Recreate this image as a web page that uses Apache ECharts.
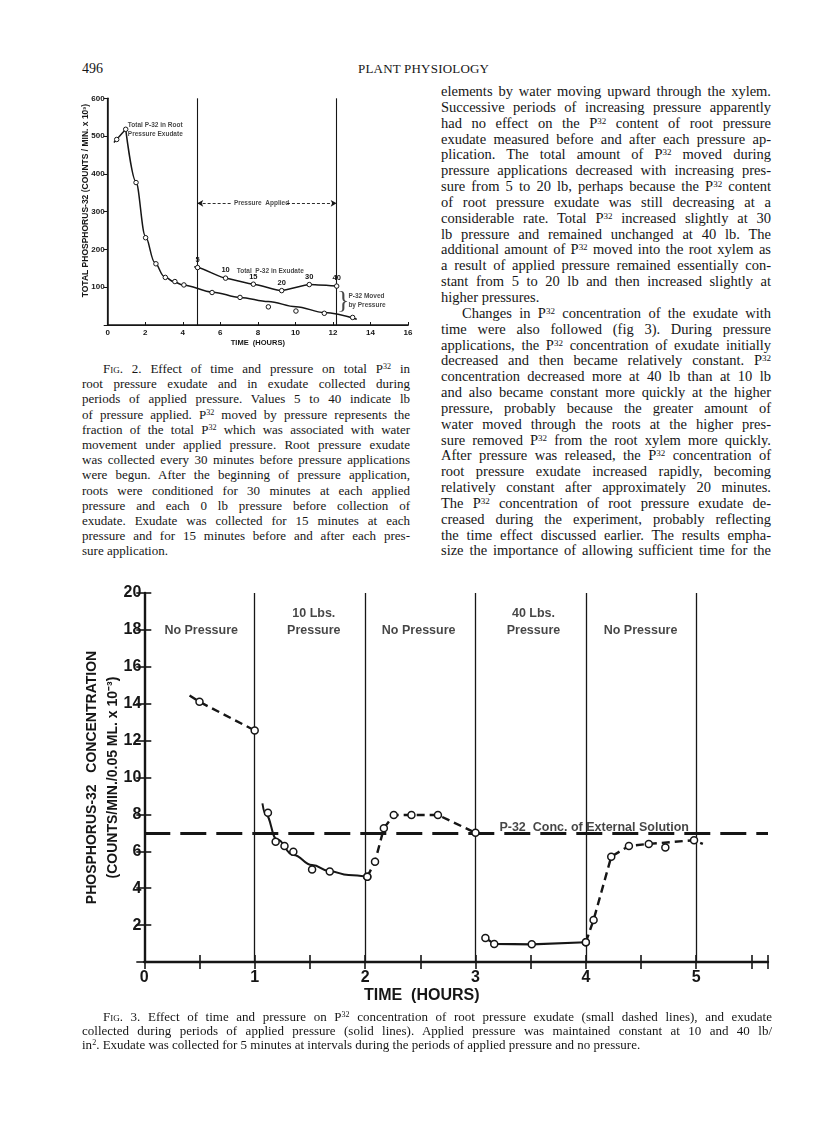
<!DOCTYPE html>
<html>
<head>
<meta charset="utf-8">
<script src="https://cdn.jsdelivr.net/npm/echarts@6/dist/echarts.min.js"></script>
<style>
  body { margin: 0; background: #fff; }
  #page { position: relative; width: 816px; height: 1121px; overflow: hidden;
          font-family: "Liberation Serif", "DejaVu Serif", serif; color: #161616; }
  .hd { position: absolute; font-size: 14px; line-height: 16px; }
  .col { position: absolute; }
  .col div { text-align: justify; text-align-last: justify; overflow: visible; }
  .col div.end { text-align-last: left; }
  .col div.ind { padding-left: 21px; }
  sup { font-size: 0.62em; line-height: 0; vertical-align: 0.48em; }
  .sc { font-variant: small-caps; }
  #fig2, #fig3 { position: absolute; left: 0; }
</style>
</head>
<body>
<div id="page">
  <div class="hd" style="left:82px; top:61px;">496</div>
  <div class="hd" style="left:358px; top:61px; font-size:13px; letter-spacing:0.2px;">PLANT PHYSIOLOGY</div>

  <div id="fig2" style="top:80px; width:430px; height:280px;"></div>

  <div class="col" style="left:82px; top:361px; width:328px; font-size:13px; line-height:15.2px;">
    <div class="ind">F<span class="sc">ig</span>. 2. Effect of time and pressure on total P<sup>32</sup> in</div>
    <div>root pressure exudate and in exudate collected during</div>
    <div>periods of applied pressure. Values 5 to 40 indicate lb</div>
    <div>of pressure applied. P<sup>32</sup> moved by pressure represents the</div>
    <div>fraction of the total P<sup>32</sup> which was associated with water</div>
    <div>movement under applied pressure. Root pressure exudate</div>
    <div>was collected every 30 minutes before pressure applications</div>
    <div>were begun. After the beginning of pressure application,</div>
    <div>roots were conditioned for 30 minutes at each applied</div>
    <div>pressure and each 0 lb pressure before collection of</div>
    <div>exudate. Exudate was collected for 15 minutes at each</div>
    <div>pressure and for 15 minutes before and after each pres-</div>
    <div class="end">sure application.</div>
  </div>

  <div class="col" style="left:441px; top:84px; width:330px; font-size:14.5px; line-height:15.85px;">
    <div>elements by water moving upward through the xylem.</div>
    <div>Successive periods of increasing pressure apparently</div>
    <div>had no effect on the P<sup>32</sup> content of root pressure</div>
    <div>exudate measured before and after each pressure ap-</div>
    <div>plication. The total amount of P<sup>32</sup> moved during</div>
    <div>pressure applications decreased with increasing pres-</div>
    <div>sure from 5 to 20 lb, perhaps because the P<sup>32</sup> content</div>
    <div>of root pressure exudate was still decreasing at a</div>
    <div>considerable rate. Total P<sup>32</sup> increased slightly at 30</div>
    <div>lb pressure and remained unchanged at 40 lb. The</div>
    <div>additional amount of P<sup>32</sup> moved into the root xylem as</div>
    <div>a result of applied pressure remained essentially con-</div>
    <div>stant from 5 to 20 lb and then increased slightly at</div>
    <div class="end">higher pressures.</div>
    <div class="ind">Changes in P<sup>32</sup> concentration of the exudate with</div>
    <div>time were also followed (fig 3). During pressure</div>
    <div>applications, the P<sup>32</sup> concentration of exudate initially</div>
    <div>decreased and then became relatively constant. P<sup>32</sup></div>
    <div>concentration decreased more at 40 lb than at 10 lb</div>
    <div>and also became constant more quickly at the higher</div>
    <div>pressure, probably because the greater amount of</div>
    <div>water moved through the roots at the higher pres-</div>
    <div>sure removed P<sup>32</sup> from the root xylem more quickly.</div>
    <div>After pressure was released, the P<sup>32</sup> concentration of</div>
    <div>root pressure exudate increased rapidly, becoming</div>
    <div>relatively constant after approximately 20 minutes.</div>
    <div>The P<sup>32</sup> concentration of root pressure exudate de-</div>
    <div>creased during the experiment, probably reflecting</div>
    <div>the time effect discussed earlier. The results empha-</div>
    <div>size the importance of allowing sufficient time for the</div>
  </div>

  <div id="fig3" style="top:570px; width:816px; height:450px;"></div>

  <div class="col" style="left:82px; top:1010px; width:690px; font-size:13px; line-height:14px;">
    <div class="ind">F<span class="sc">ig</span>. 3. Effect of time and pressure on P<sup>32</sup> concentration of root pressure exudate (small dashed lines), and exudate</div>
    <div>collected during periods of applied pressure (solid lines). Applied pressure was maintained constant at 10 and 40 lb/</div>
    <div class="end">in<sup>2</sup>. Exudate was collected for 5 minutes at intervals during the periods of applied pressure and no pressure.</div>
  </div>
</div>

<script>
// ---------- Fig. 2 data (time in hours, counts/min x 10^3) ----------
var rootT = [0.48, 0.96, 1.51, 2.02, 2.57, 3.07, 3.58, 4.06, 5.56, 7.05, 8.56, 10.03, 11.54, 13.05];
var rootC = [491, 518, 377, 231, 162, 126, 115, 106, 86, 73, 48, 37, 31, 20];
// drawn curve through the root pressure points
var rootLeadT = [0.33, 0.96];
var rootLeadC = [483, 518];
var rootFitT = [0.96, 1.5, 2.0, 2.5, 3.0, 3.5, 4.0, 5.6, 7.05, 8.56, 10.03, 11.54, 13.27];
var rootFitC = [518, 380, 236, 166, 129, 115, 106, 87, 73, 62, 48.5, 33, 15];
// exudate collected under pressure
var pressures = ['5', '10', '15', '20', '30', '40'];
var exT = [4.79, 6.28, 7.76, 9.27, 10.74, 12.2];
var exC = [152, 124, 108, 91, 107, 103];
var exLineT = [4.61, 4.79, 6.28, 7.76, 9.27, 10.74, 12.2];
var exLineC = [154, 152, 124, 108, 91, 107, 103];
var pressureStart = 4.77, pressureEnd = 12.2;

// ---------- Fig. 3 data (time in hours, counts/min/0.05 ml x 10^-3) ----------
var boundaries = [1, 2, 3, 4, 5];
var regionMid = [0.52, 1.54, 2.49, 3.53, 4.5];
var regionNames = ['No Pressure', '10 Lbs.\nPressure', 'No Pressure', '40 Lbs.\nPressure', 'No Pressure'];
var externalConc = 7;

// no pressure, first hour
var np1LineT = [0.41, 0.5, 1.0];
var np1LineC = [14.45, 14.1, 12.55];
var np1T = [0.5, 1.0];
var np1C = [14.1, 12.55];
// 10 lb pressure
var p10T = [1.12, 1.19, 1.27, 1.35, 1.52, 1.68, 2.02];
var p10C = [8.09, 6.52, 6.29, 5.98, 5.02, 4.9, 4.62];
var p10FitT = [1.07, 1.1, 1.2, 1.35, 1.52, 1.68, 1.85, 2.02];
var p10FitC = [8.6, 8.0, 6.65, 5.8, 5.26, 4.92, 4.72, 4.62];
// no pressure after 10 lb
var np2T = [2.02, 2.09, 2.17, 2.26, 2.42, 2.66, 3.0];
var np2C = [4.62, 5.44, 7.25, 7.97, 7.97, 7.97, 7.0];
// 40 lb pressure
var p40T = [3.09, 3.17, 3.51, 4.0];
var p40C = [1.3, 0.98, 0.96, 1.07];
// no pressure after 40 lb
var np3T = [4.0, 4.07, 4.23, 4.39, 4.57, 4.72, 4.98];
var np3C = [1.07, 2.28, 5.71, 6.29, 6.4, 6.21, 6.6];
var np3LineT = [4.0, 4.07, 4.23, 4.39, 4.57, 4.98, 5.06];
var np3LineC = [1.07, 2.28, 5.71, 6.29, 6.4, 6.6, 6.4];

var INK = '#161616';
var SANS = '"Liberation Sans", Arial, sans-serif';

function pts(t, c) {
  return t.map(function (v, i) { return [v, c[i]]; });
}

function lineSeries(t, c, width, dash, smooth) {
  return {
    type: 'line', data: pts(t, c), symbol: 'none', smooth: smooth || false,
    smoothMonotone: 'x', silent: true, z: 3,
    lineStyle: { color: INK, width: width, type: dash }
  };
}

function dotSeries(t, c, size, border) {
  return {
    type: 'scatter', data: pts(t, c), symbol: 'circle', symbolSize: size, z: 5, silent: true,
    itemStyle: { color: '#fff', borderColor: INK, borderWidth: border, opacity: 1 }
  };
}

// text-only marks placed in data space
function noteSeries(items, label) {
  return {
    type: 'scatter', symbolSize: 1, silent: true, z: 6,
    itemStyle: { color: 'rgba(0,0,0,0)' },
    data: items.map(function (n) {
      return { value: [n.x, n.y], name: n.text, label: n.label || {} };
    }),
    label: Object.assign({
      show: true, formatter: '{b}', position: [0, 0], color: INK,
      fontFamily: SANS, fontWeight: 'bold'
    }, label)
  };
}

// ================= Fig. 2 =================
var myChart2 = echarts.init(document.getElementById('fig2'));
var option2 = {
  animation: false,
  grid: { left: 107.7, top: 18.3, width: 300.3, height: 226.7 },
  xAxis: [{
    type: 'value', min: 0, max: 16, interval: 2, position: 'bottom',
    axisLine: { lineStyle: { color: INK, width: 1.5 } },
    axisTick: { inside: true, length: 3, lineStyle: { color: INK } },
    axisLabel: { color: INK, fontSize: 8, fontWeight: 'bold', fontFamily: SANS, margin: 4 },
    splitLine: { show: false },
    name: 'TIME  (HOURS)', nameLocation: 'middle', nameGap: 14, nameMoveOverlap: false,
    nameTextStyle: { color: INK, fontSize: 7.5, fontWeight: 'bold', fontFamily: SANS }
  }, {
    type: 'value', min: 0, max: 16, interval: 2, position: 'top',
    axisLine: { lineStyle: { color: INK, width: 1.2 } },
    axisTick: { show: false }, axisLabel: { show: false }, splitLine: { show: false }
  }],
  yAxis: [{
    type: 'value', min: 0, max: 600, interval: 100, position: 'left',
    axisLine: { show: true, lineStyle: { color: INK, width: 1.5 } },
    axisTick: { inside: false, length: 3, lineStyle: { color: INK } },
    axisLabel: {
      color: INK, fontSize: 8, fontWeight: 'bold', fontFamily: SANS, margin: 3,
      formatter: function (v) { return v === 0 ? '' : v; }
    },
    splitLine: { show: false },
    name: 'TOTAL PHOSPHORUS-32 (COUNTS / MIN. x 10³)', nameLocation: 'middle', nameRotate: 90,
    nameGap: 18, nameMoveOverlap: false,
    nameTextStyle: { color: INK, fontSize: 8.5, fontWeight: 'bold', fontFamily: SANS, padding: [0, 0, 0, 22] }
  }, {
    type: 'value', min: 0, max: 600, interval: 100, position: 'right',
    axisLine: { show: true, lineStyle: { color: INK, width: 1.2 } },
    axisTick: { inside: true, length: 4, lineStyle: { color: INK } },
    axisLabel: { show: false }, splitLine: { show: false }
  }],
  series: [
    Object.assign(lineSeries(rootLeadT, rootLeadC, 1.4, 'solid'), {
      markLine: {
        silent: true, symbol: 'none', label: { show: false },
        lineStyle: { color: INK, width: 1.1, type: 'solid' },
        data: [{ xAxis: pressureStart }, { xAxis: pressureEnd }]
      }
    }),
    lineSeries(rootFitT, rootFitC, 1.5, 'solid', 0.35),
    dotSeries(rootT, rootC, 4.5, 1),
    Object.assign(lineSeries(exLineT, exLineC, 1.5, 'solid', 0.15), {
      markLine: {
        silent: true, symbol: ['none', 'arrow'], symbolSize: [5, 6], label: { show: false },
        lineStyle: { color: INK, width: 0.9, type: [3, 2] },
        data: [
          [{ coord: [6.55, 322] }, { coord: [pressureStart, 322] }],
          [{ coord: [9.55, 322] }, { coord: [pressureEnd, 322] }]
        ]
      }
    }),
    Object.assign(dotSeries(exT, exC, 4.5, 1), {
      data: exT.map(function (t, i) { return { value: [t, exC[i]], name: pressures[i] }; }),
      label: {
        show: true, formatter: '{b}', position: 'top', distance: 1,
        color: INK, fontSize: 7.5, fontWeight: 'bold', fontFamily: SANS
      }
    }),
    noteSeries([
      { x: 1.1, y: 515, text: 'Total P-32 in Root\nPressure Exudate' },
      { x: 6.9, y: 141, text: 'Total  P-32 in Exudate' },
      { x: 6.75, y: 322, text: 'Pressure  Applied' },
      { x: 12.85, y: 64, text: 'P-32 Moved\nby Pressure' }
    ], { fontSize: 6.5, lineHeight: 9, align: 'left', verticalAlign: 'middle' }),
    noteSeries([
      { x: 12.58, y: 62, text: '}' }
    ], { fontSize: 26, fontWeight: 'normal', fontFamily: '"Liberation Serif", serif', align: 'center', verticalAlign: 'middle' })
  ]
};
myChart2.setOption(option2);

// ================= Fig. 3 =================
var myChart3 = echarts.init(document.getElementById('fig3'));

var frameX = {
  type: 'value', min: 0, max: 5.65, interval: 0.5,
  axisTick: { inside: true, length: 7, lineStyle: { color: INK, width: 1.6 } },
  splitLine: { show: false }
};
var frameY = {
  type: 'value', min: 0, max: 20, interval: 2,
  splitLine: { show: false }
};

var option3 = {
  animation: false,
  grid: { left: 144.3, top: 23, width: 623.7, height: 369 },
  xAxis: [
    Object.assign({}, frameX, {
      position: 'bottom',
      axisLine: { lineStyle: { color: INK, width: 2.4 } },
      axisLabel: {
        color: INK, fontSize: 16, fontWeight: 'bold', fontFamily: SANS, margin: 8,
        formatter: function (v) { return v % 1 === 0 ? String(v) : ''; }
      }
    }),
    Object.assign({}, frameX, {
      position: 'top',
      axisLine: { lineStyle: { color: INK, width: 1.6 } },
      axisLabel: { show: false }
    })
  ],
  yAxis: [
    Object.assign({}, frameY, {
      position: 'left',
      axisLine: { show: true, lineStyle: { color: INK, width: 2.4 } },
      axisTick: { inside: true, length: 7, lineStyle: { color: INK, width: 1.6 } },
      axisLabel: {
        color: INK, fontSize: 16, fontWeight: 'bold', fontFamily: SANS, margin: 3,
        formatter: function (v) { return v === 0 ? '' : v; }
      },
      name: 'PHOSPHORUS-32   CONCENTRATION\n(COUNTS/MIN./0.05 ML. x 10⁻³)',
      nameLocation: 'middle', nameRotate: 90, nameGap: 21, nameMoveOverlap: false,
      nameTextStyle: { color: INK, fontSize: 14, fontWeight: 'bold', fontFamily: SANS, lineHeight: 21 }
    }),
    Object.assign({}, frameY, {
      position: 'right',
      axisLine: { show: true, lineStyle: { color: INK, width: 1.8 } },
      axisTick: { inside: true, length: 8, lineStyle: { color: INK, width: 1.6 } },
      axisLabel: { show: false }
    })
  ],
  graphic: [{
    type: 'text', left: 364, top: 418,
    style: { text: 'TIME  (HOURS)', fill: INK, font: 'bold 16px ' + SANS }
  }],
  series: [
    {
      type: 'line', data: [], symbol: 'none', silent: true,
      markLine: {
        silent: true, symbol: 'none', label: { show: false },
        lineStyle: { color: INK, width: 1.3, type: 'solid' },
        data: boundaries.map(function (b) { return { xAxis: b }; }).concat([{
          yAxis: externalConc, lineStyle: { color: INK, width: 2.8, type: [26, 10] }
        }])
      }
    },
    lineSeries(np1LineT, np1LineC, 2.4, [8, 5]),
    lineSeries(p10FitT, p10FitC, 2, 'solid', 0.45),
    lineSeries(np2T, np2C, 2.4, [8, 5]),
    lineSeries(p40T, p40C, 2.2, 'solid'),
    lineSeries(np3LineT, np3LineC, 2.4, [8, 5]),
    dotSeries(np1T, np1C, 7, 1.5),
    dotSeries(p10T, p10C, 7, 1.5),
    dotSeries(np2T, np2C, 7, 1.5),
    dotSeries(p40T, p40C, 7, 1.5),
    dotSeries(np3T, np3C, 7, 1.5),
    noteSeries(regionNames.map(function (n, i) {
      return { x: regionMid[i], y: 18, text: n };
    }), { fontSize: 12.5, lineHeight: 17, align: 'center', verticalAlign: 'bottom', offset: [0, 10] }),
    noteSeries([
      { x: 4.08, y: externalConc, text: 'P-32  Conc. of External Solution' }
    ], { fontSize: 12.5, lineHeight: 15, align: 'center', verticalAlign: 'bottom', offset: [0, 3] })
  ]
};
myChart3.setOption(option3);
</script>
</body>
</html>
